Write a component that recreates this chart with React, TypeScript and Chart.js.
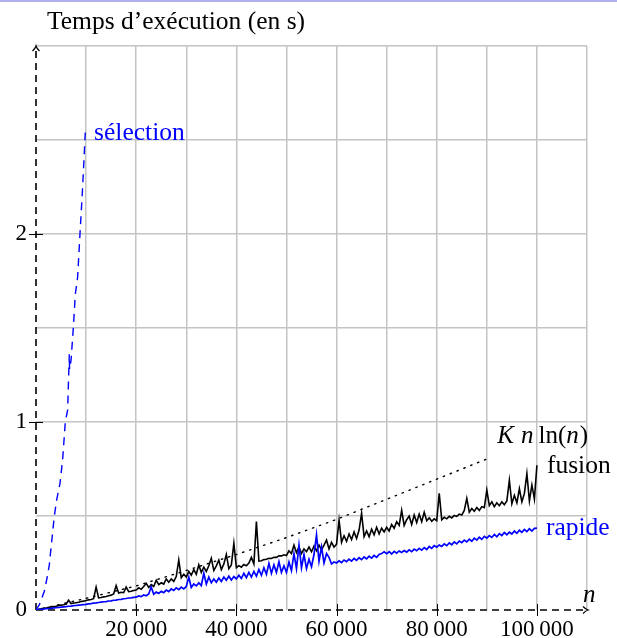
import React, { useEffect, useRef } from 'react';
import { Chart, registerables } from 'chart.js';

Chart.register(...registerables);

// ---- data ----
// n grid step for the "fusion" and "rapide" measurements (0 .. 100 000)
const N_STEP = 500;

const fusionT = [
  0, 0.004, 0.006, 0.009, 0.011, 0.014, 0.016, 0.019, 0.02, 0.024,
  0.026, 0.028, 0.031, 0.052, 0.034, 0.037, 0.039, 0.041, 0.045, 0.047,
  0.05, 0.054, 0.056, 0.06, 0.122, 0.064, 0.066, 0.07, 0.072, 0.076,
  0.079, 0.085, 0.13, 0.09, 0.094, 0.092, 0.122, 0.098, 0.1, 0.104,
  0.106, 0.118, 0.11, 0.125, 0.142, 0.12, 0.135, 0.125, 0.158, 0.135,
  0.145, 0.138, 0.165, 0.148, 0.165, 0.152, 0.178, 0.266, 0.172, 0.19,
  0.175, 0.205, 0.185, 0.215, 0.19, 0.24, 0.2, 0.228, 0.205, 0.235,
  0.275, 0.21, 0.235, 0.265, 0.215, 0.245, 0.295, 0.22, 0.24, 0.355,
  0.225, 0.236, 0.228, 0.242, 0.235, 0.25, 0.28, 0.245, 0.47, 0.26,
  0.262, 0.268, 0.27, 0.275, 0.274, 0.28, 0.28, 0.288, 0.288, 0.294,
  0.29, 0.315, 0.3, 0.345, 0.305, 0.335, 0.3, 0.325, 0.31, 0.335,
  0.31, 0.34, 0.315, 0.345, 0.32, 0.345, 0.372, 0.325, 0.36, 0.335,
  0.35, 0.478, 0.36, 0.395, 0.365, 0.405, 0.375, 0.415, 0.38, 0.425,
  0.514, 0.39, 0.42, 0.39, 0.43, 0.4, 0.44, 0.405, 0.435, 0.415,
  0.44, 0.42, 0.455, 0.435, 0.47, 0.45, 0.53, 0.45, 0.48, 0.5,
  0.455, 0.505, 0.465, 0.51, 0.47, 0.52, 0.475, 0.49, 0.472, 0.485,
  0.475, 0.62, 0.48, 0.493, 0.485, 0.498, 0.49, 0.503, 0.498, 0.51,
  0.505, 0.53, 0.594, 0.52, 0.54, 0.525, 0.545, 0.53, 0.55, 0.545,
  0.638, 0.555, 0.575, 0.55, 0.57, 0.555, 0.575, 0.56, 0.58, 0.69,
  0.565, 0.61, 0.57, 0.645, 0.575, 0.62, 0.725, 0.58, 0.665, 0.59, 0.77,
];

const rapideT = [
  0, 0.002, 0.004, 0.005, 0.007, 0.008, 0.009, 0.011, 0.012, 0.014,
  0.015, 0.017, 0.018, 0.02, 0.021, 0.023, 0.024, 0.026, 0.027, 0.029,
  0.03, 0.033, 0.034, 0.037, 0.038, 0.04, 0.042, 0.044, 0.045, 0.048,
  0.049, 0.052, 0.053, 0.056, 0.057, 0.06, 0.061, 0.064, 0.065, 0.067,
  0.068, 0.075, 0.071, 0.08, 0.076, 0.085, 0.122, 0.084, 0.095, 0.088,
  0.1, 0.092, 0.106, 0.098, 0.112, 0.104, 0.118, 0.108, 0.122, 0.112,
  0.125, 0.175, 0.12, 0.138, 0.128, 0.145, 0.13, 0.195, 0.138, 0.175,
  0.145, 0.165, 0.148, 0.17, 0.152, 0.175, 0.158, 0.18, 0.16, 0.178,
  0.165, 0.185, 0.168, 0.195, 0.172, 0.2, 0.175, 0.205, 0.18, 0.215,
  0.185, 0.225, 0.19, 0.248, 0.195, 0.24, 0.2, 0.257, 0.2, 0.235,
  0.2, 0.255, 0.21, 0.3, 0.22, 0.345, 0.225, 0.295, 0.22, 0.27,
  0.23, 0.295, 0.4, 0.26, 0.335, 0.25, 0.3, 0.28, 0.245, 0.255,
  0.25, 0.262, 0.252, 0.266, 0.257, 0.27, 0.26, 0.274, 0.264, 0.278,
  0.268, 0.282, 0.272, 0.286, 0.276, 0.29, 0.28, 0.295, 0.3, 0.31,
  0.3, 0.31, 0.298, 0.312, 0.302, 0.314, 0.306, 0.316, 0.308, 0.32,
  0.31, 0.324, 0.315, 0.328, 0.318, 0.332, 0.322, 0.338, 0.328, 0.342,
  0.334, 0.346, 0.338, 0.352, 0.342, 0.357, 0.347, 0.362, 0.352, 0.367,
  0.358, 0.372, 0.362, 0.377, 0.366, 0.382, 0.372, 0.387, 0.376, 0.392,
  0.382, 0.396, 0.386, 0.402, 0.39, 0.406, 0.396, 0.412, 0.4, 0.414,
  0.404, 0.42, 0.408, 0.424, 0.413, 0.428, 0.417, 0.432, 0.42, 0.434, 0.435,
];

const selectionN = [0, 700, 1660, 2200, 2660, 3000, 3660, 4120, 4790, 5320, 5850, 6320, 6650, 6700, 7000, 7450, 7850, 8310, 8780, 9310, 9840];
const selectionT = [0, 0.03, 0.1, 0.17, 0.24, 0.33, 0.5, 0.585, 0.674, 0.8, 1.0, 1.064, 1.36, 1.28, 1.33, 1.5, 1.68, 1.77, 2.0, 2.25, 2.54];

const knlnN = [0, 10000, 20000, 30000, 40000, 50000, 60000, 70000, 80000, 90000];
const knlnT = [0, 0.062, 0.128, 0.21, 0.295, 0.385, 0.482, 0.589, 0.696, 0.803];

const xLabeledTicks = [20000, 40000, 60000, 80000, 100000];
const yLabeledTicks = [0, 1, 2];

const TITLE = 'Temps d\u2019exécution (en s)';

const SERIF = '"Liberation Serif", "Times New Roman", serif';
const BLUE = '#0000ff';

function fmtThousands(v: number): string {
  const s = String(Math.round(v));
  return s.replace(/\B(?=(\d{3})+(?!\d))/g, '\u2009');
}

const overlayPlugin = {
  id: 'overlay',
  beforeDatasetsDraw(chart: any) {
    const { ctx, chartArea: ca } = chart;
    ctx.save();
    // dashed axes
    ctx.strokeStyle = '#000';
    ctx.lineWidth = 1.6;
    ctx.setLineDash([7, 5]);
    ctx.beginPath();
    ctx.moveTo(ca.left, ca.bottom);
    ctx.lineTo(ca.left, ca.top + 1);
    ctx.moveTo(ca.left, ca.bottom);
    ctx.lineTo(ca.right, ca.bottom);
    ctx.stroke();
    ctx.setLineDash([]);
    ctx.restore();
  },
  afterDraw(chart: any) {
    const { ctx, chartArea: ca } = chart;
    const x = chart.scales.x;
    const y = chart.scales.y;
    ctx.save();

    // thin page rule on top
    ctx.strokeStyle = 'rgb(176,176,240)';
    ctx.lineWidth = 2;
    ctx.beginPath();
    ctx.moveTo(0, 1);
    ctx.lineTo(chart.width, 1);
    ctx.stroke();

    // crossing tick marks
    ctx.strokeStyle = '#000';
    ctx.lineWidth = 1;
    ctx.beginPath();
    for (const v of xLabeledTicks) {
      const px = Math.round(x.getPixelForValue(v)) + 0.5;
      ctx.moveTo(px, ca.bottom - 6);
      ctx.lineTo(px, ca.bottom + 6);
    }
    for (const v of yLabeledTicks) {
      if (v === 0) continue;
      const py = Math.round(y.getPixelForValue(v)) + 0.5;
      ctx.moveTo(ca.left - 7, py);
      ctx.lineTo(ca.left + 7, py);
    }
    ctx.stroke();

    // arrow heads
    ctx.lineWidth = 1.2;
    ctx.strokeStyle = '#000';
    ctx.beginPath();
    const ax = ca.left;
    const ay = ca.top;
    ctx.moveTo(ax - 3.5, ay + 5);
    ctx.quadraticCurveTo(ax - 0.5, ay + 2, ax, ay);
    ctx.quadraticCurveTo(ax + 0.5, ay + 2, ax + 3.5, ay + 5);
    const bx = ca.right + 1;
    const by = ca.bottom;
    ctx.moveTo(bx - 5, by - 3.5);
    ctx.quadraticCurveTo(bx - 2, by - 0.5, bx, by);
    ctx.quadraticCurveTo(bx - 2, by + 0.5, bx - 5, by + 3.5);
    ctx.stroke();

    ctx.textAlign = 'left';
    ctx.textBaseline = 'alphabetic';

    // title
    ctx.fillStyle = '#000';
    ctx.font = `25.5px ${SERIF}`;
    ctx.fillText(TITLE, 47, 29);

    // axis name n
    ctx.font = `italic 25px ${SERIF}`;
    ctx.fillText('n', ca.right - 4, ca.bottom - 8);

    // series labels
    ctx.fillStyle = BLUE;
    ctx.font = `25.5px ${SERIF}`;
    ctx.fillText('sélection', x.getPixelForValue(10000) + 8, y.getPixelForValue(2.5));
    ctx.fillText('rapide', x.getPixelForValue(100000) + 9, y.getPixelForValue(0.4));
    ctx.fillStyle = '#000';
    ctx.fillText('fusion', x.getPixelForValue(100000) + 10, y.getPixelForValue(0.73));

    // K n ln(n)
    const parts: [string, boolean, number][] = [
      ['K', true, 7], ['n', true, 5], ['ln', false, 0], ['(', false, 0], ['n', true, 1], [')', false, 0],
    ];
    let tx = x.getPixelForValue(92100);
    const ty = y.getPixelForValue(0.889);
    for (const [txt, it, gap] of parts) {
      ctx.font = `${it ? 'italic ' : ''}25px ${SERIF}`;
      ctx.fillText(txt, tx, ty);
      tx += ctx.measureText(txt).width + gap;
    }

    ctx.restore();
  },
};

export default function App() {
  const ref = useRef<HTMLCanvasElement>(null);

  useEffect(() => {
    const canvas = ref.current;
    if (!canvas) return;

    const fusionData = fusionT.map((t, i) => ({ x: i * N_STEP, y: t }));
    const rapideData = rapideT.map((t, i) => ({ x: i * N_STEP, y: t }));
    const selectionData = selectionN.map((n, i) => ({ x: n, y: selectionT[i] }));
    const knlnData = knlnN.map((n, i) => ({ x: n, y: knlnT[i] }));

    const gridColor = (c: any) => (c.tick && c.tick.value === 0 ? 'rgba(0,0,0,0)' : 'rgb(196,196,196)');

    const chart = new Chart(canvas, {
      type: 'line',
      data: {
        datasets: [
          {
            label: 'rapide',
            data: rapideData,
            borderColor: BLUE,
            borderWidth: 1.7,
            pointRadius: 0,
            tension: 0,
            fill: false,
          },
          {
            label: 'sélection',
            data: selectionData,
            borderColor: BLUE,
            borderWidth: 1.4,
            borderDash: [8, 6],
            pointRadius: 0,
            tension: 0,
            fill: false,
          },
          {
            label: 'fusion',
            data: fusionData,
            borderColor: '#000',
            borderWidth: 1.6,
            pointRadius: 0,
            tension: 0,
            fill: false,
          },
          {
            label: 'K n ln(n)',
            data: knlnData,
            borderColor: '#000',
            borderWidth: 1.4,
            borderDash: [1.4, 6],
            borderCapStyle: 'round',
            pointRadius: 0,
            tension: 0,
            fill: false,
          },
        ],
      },
      options: {
        animation: false,
        responsive: false,
        devicePixelRatio: 1,
        layout: { padding: { top: 46, right: 30, left: 0, bottom: 0 } },
        plugins: {
          legend: { display: false },
          tooltip: { enabled: false },
          title: { display: false },
        },
        scales: {
          x: {
            type: 'linear',
            min: 0,
            max: 110000,
            grid: { color: gridColor, lineWidth: 1.5, drawTicks: false },
            border: { display: false },
            ticks: {
              stepSize: 10000,
              autoSkip: false,
              maxRotation: 0,
              padding: 6,
              color: '#000',
              font: { family: SERIF, size: 23 },
              callback: (v: any) => (xLabeledTicks.includes(Number(v)) ? fmtThousands(Number(v)) : ''),
            },
            afterFit: (s: any) => {
              s.height = 28;
            },
          },
          y: {
            type: 'linear',
            min: 0,
            max: 3,
            grid: { color: gridColor, lineWidth: 1.5, drawTicks: false },
            border: { display: false },
            ticks: {
              stepSize: 0.5,
              autoSkip: false,
              padding: 9,
              color: '#000',
              font: { family: SERIF, size: 23 },
              callback: (v: any) => (yLabeledTicks.includes(Number(v)) ? String(v) : ''),
            },
            afterFit: (s: any) => {
              s.width = 36;
            },
          },
        },
      },
      plugins: [overlayPlugin],
    } as any);

    return () => chart.destroy();
  }, []);

  return (
    <div style={{ position: 'absolute', left: 0, top: 0, width: 617, height: 638, background: '#fff' }}>
      <canvas ref={ref} width={617} height={638} style={{ display: 'block', width: 617, height: 638 }} />
    </div>
  );
}
